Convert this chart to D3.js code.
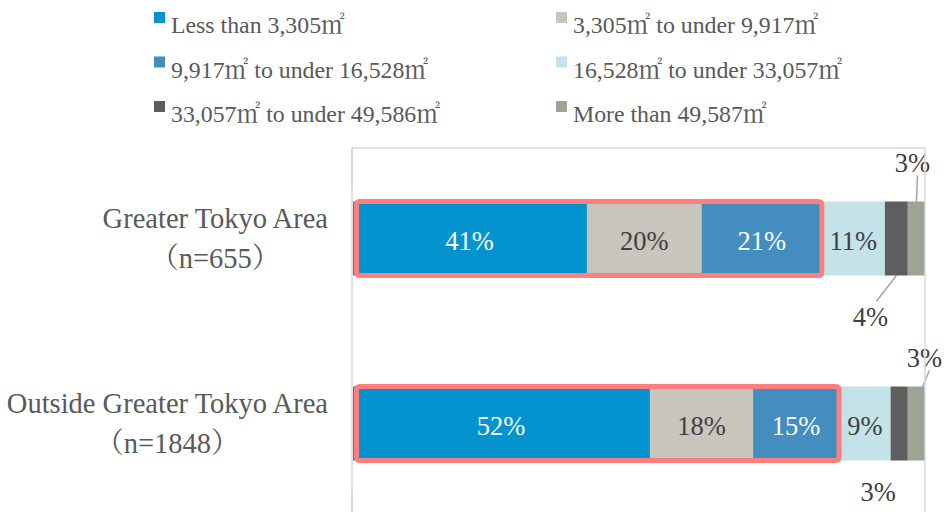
<!DOCTYPE html>
<html>
<head>
<meta charset="utf-8">
<script src="https://cdn.jsdelivr.net/npm/d3@7"></script>
<style>
  body { margin: 0; background: #fff; }
</style>
</head>
<body>
<svg width="948" height="512"></svg>
<script>
const svg = d3.select('svg');

const regions = ['Greater Tokyo Area', 'Outside Greater Tokyo Area'];
const sampleSizes = ['（n=655）', '（n=1848）'];
const sizeClasses = [
  'Less than 3,305㎡',
  '3,305㎡ to under 9,917㎡',
  '9,917㎡ to under 16,528㎡',
  '16,528㎡ to under 33,057㎡',
  '33,057㎡ to under 49,586㎡',
  'More than 49,587㎡'
];
const tokyoShares = [41, 20, 21, 11, 4, 3];
const outsideShares = [52, 18, 15, 9, 3, 3];
const highlightUpTo = 3; // first three classes are boxed in red

const colors = ['#0394D0', '#C8C5BD', '#438DBF', '#C3E3E8', '#5E5E5E', '#9DA395'];
const labelColors = ['#fff', '#404040', '#fff', '#404040', '#404040', '#404040'];

// where the small labels go: [series index, class index, side, dx, dy, leader]
const outsideLabels = [
  [0, 4, 'below', -26, 40, true],
  [0, 5, 'above', -4, -40, true],
  [1, 4, 'below', -21, 30, false],
  [1, 5, 'above', 8, -30, true]
];

const series = [tokyoShares, outsideShares];
const textGray = '#595959';
const SERIF = 'Liberation Serif';
const CJK = 'Noto Serif CJK JP';

// latin runs in the serif, ㎡ and full-width brackets in the CJK serif
function richText(sel, str) {
  str.split(/([㎡（）]+)/).filter(s => s.length).forEach(part => {
    sel.append('tspan')
      .style('font-family', /[㎡（）]/.test(part) ? CJK : SERIF)
      .text(part);
  });
  return sel;
}

const x = d3.scaleLinear().domain([0, 100]).range([352, 925]);
const y = d3.scaleBand().domain(regions).range([146, 516])
  .paddingInner(0.6).paddingOuter(0.3);

// stacked segments
const rows = regions.map((r, i) => {
  let acc = 0;
  return series[i].map((v, j) => {
    const d = { region: r, k: j, v, x0: acc, x1: acc + v };
    acc += v;
    return d;
  });
});

const g = svg.append('g');
rows.forEach(row => {
  g.selectAll(null).data(row).join('rect')
    .attr('x', d => x(d.x0))
    .attr('y', d => y(d.region))
    .attr('width', d => x(d.x1) - x(d.x0))
    .attr('height', y.bandwidth())
    .attr('fill', d => colors[d.k]);
});

// plot frame
svg.append('rect')
  .attr('x', 352).attr('y', 148)
  .attr('width', 573).attr('height', 400)
  .attr('fill', 'none')
  .attr('stroke', '#D9D9D9')
  .attr('stroke-width', 1.5);

// red highlight boxes
rows.forEach(row => {
  const end = d3.sum(row.slice(0, highlightUpTo), d => d.v);
  g.append('rect')
    .attr('x', x(0) + 4.5)
    .attr('y', y(row[0].region))
    .attr('width', x(end) - x(0) - 4.5)
    .attr('height', y.bandwidth())
    .attr('rx', 3)
    .attr('fill', 'none')
    .attr('stroke', '#FF7F7F')
    .attr('stroke-width', 5);
});
svg.append('rect').attr('x', 351).attr('y', 190).attr('width', 2).attr('height', 300)
  .attr('fill', '#fff');
svg.append('line').attr('x1', 352).attr('x2', 352).attr('y1', 148).attr('y2', 512)
  .attr('stroke', '#D9D9D9').attr('stroke-width', 1.5);

// inside labels
const small = new Set(outsideLabels.map(o => o[0] + '-' + o[1]));
rows.forEach((row, i) => {
  g.selectAll(null).data(row.filter(d => !small.has(i + '-' + d.k))).join('text')
    .style('font-family', SERIF)
    .attr('x', d => (x(d.x0) + x(d.x1)) / 2)
    .attr('y', d => y(d.region) + y.bandwidth() / 2)
    .attr('dy', '0.42em')
    .attr('text-anchor', 'middle')
    .attr('font-size', 26.5)
    .attr('fill', d => labelColors[d.k])
    .text(d => d.v + '%');
});

// outside labels with leader lines
outsideLabels.forEach(([i, k, side, dx, dy, leader]) => {
  const d = rows[i][k];
  const cx = (x(d.x0) + x(d.x1)) / 2;
  const edge = side === 'above' ? y(d.region) : y(d.region) + y.bandwidth();
  const lx = cx + dx, ly = edge + dy;
  if (leader) {
    const gap = side === 'above' ? 14 : -14;
    const sink = (side === 'above' && dy > -35) ? 10 : 0;
    g.append('line')
      .attr('x1', cx + (sink ? 2 : 0)).attr('y1', edge + sink)
      .attr('x2', lx + (side === 'above' ? 5 : 6)).attr('y2', ly + gap)
      .attr('stroke', '#A6A6A6').attr('stroke-width', 1.5);
  }
  g.append('text')
    .style('font-family', SERIF)
    .attr('x', lx).attr('y', ly)
    .attr('dy', '0.4em')
    .attr('text-anchor', 'middle')
    .attr('font-size', 26.5)
    .attr('fill', '#404040')
    .text(d.v + '%');
});

// category labels, two centred lines, block right-aligned
regions.forEach((r, i) => {
  const cy = y(r) + y.bandwidth() / 2;
  const t = svg.append('g');
  const a = t.append('text').attr('y', cy - 20).attr('dy', '0.33em')
    .attr('font-size', 28.5).attr('fill', textGray).attr('text-anchor', 'middle');
  richText(a, r);
  const b = t.append('text').attr('y', cy + 20).attr('dy', '0.33em')
    .attr('font-size', 28.5).attr('fill', textGray).attr('text-anchor', 'middle');
  richText(b, sampleSizes[i]);
  const w = Math.max(a.node().getComputedTextLength(), b.node().getComputedTextLength());
  const c = 328 - w / 2;
  a.attr('x', c); b.attr('x', c);
});

// legend
const legend = svg.append('g');
sizeClasses.forEach((s, k) => {
  const col = k % 2, row = Math.floor(k / 2);
  const lg = legend.append('g')
    .attr('transform', `translate(${col ? 556 : 154},${33 + row * 44.5})`);
  lg.append('rect').attr('x', 0).attr('y', -21).attr('width', 11).attr('height', 11)
    .attr('fill', colors[k]);
  richText(lg.append('text').attr('x', 17).attr('y', 0)
    .attr('font-size', 23.8).attr('fill', textGray), s);
});
</script>
</body>
</html>
